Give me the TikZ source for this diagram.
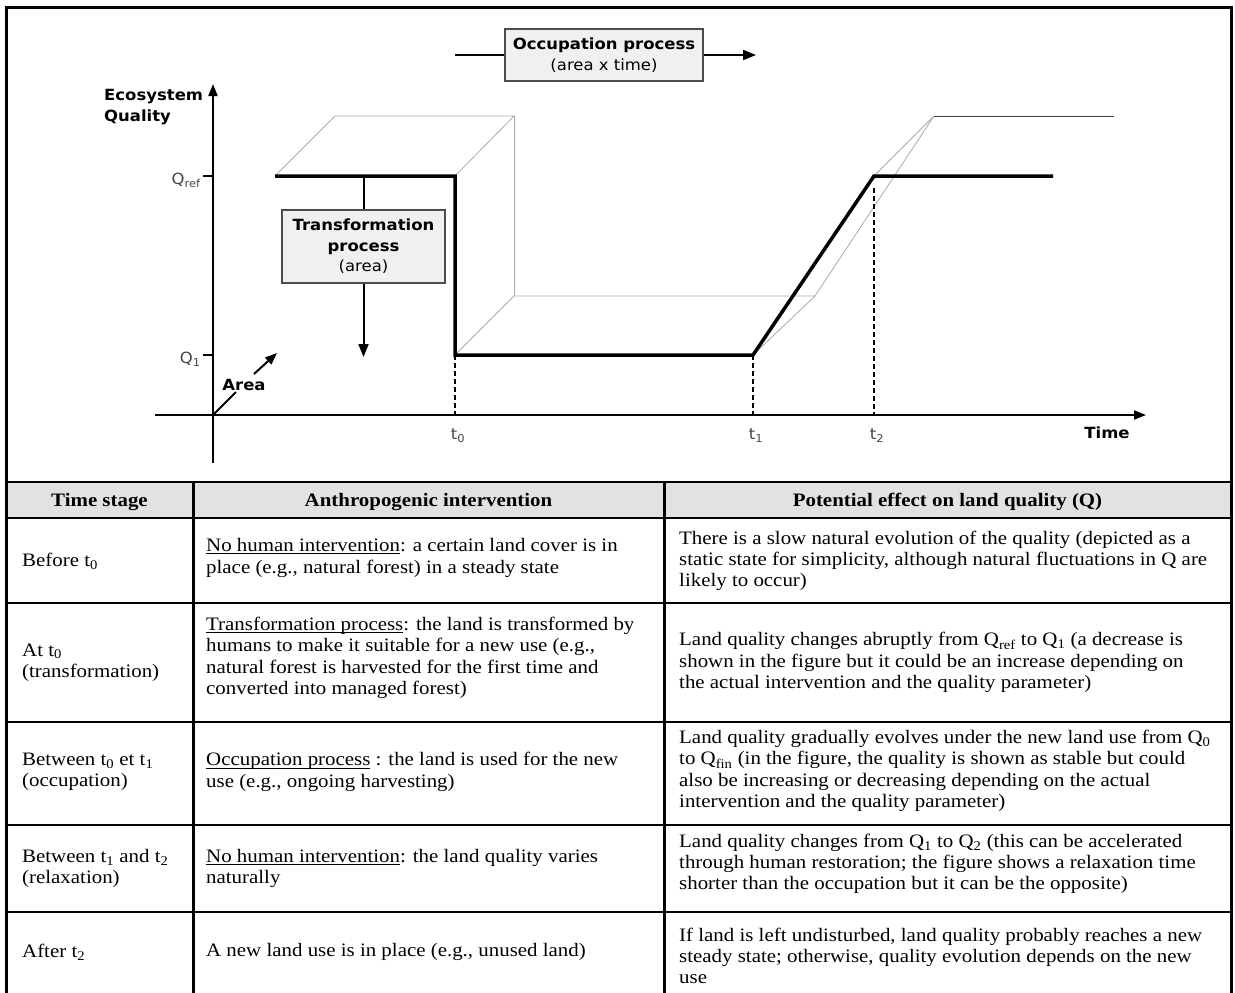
\documentclass[tikz,border=0pt]{standalone}
\usepackage{fontspec}
\setmainfont{Liberation Serif}[FakeStretch=1.1]
\newfontfamily\vf{DejaVu Sans}[FakeStretch=1.07]
\usetikzlibrary{arrows.meta}
\newcommand{\tabfont}{\fontsize{19}{21.3}\selectfont}
\newcommand{\figfont}{\vf\fontsize{15.4}{20.5}\selectfont}
\newcommand{\sub}[1]{\textsubscript{#1}}
% underline drawn close to the baseline, clear of the next line
\newcommand{\ulx}[1]{\setbox0=\hbox{#1}\rlap{\rule[-2.6pt]{\wd0}{1pt}}\box0\relax}
\definecolor{lblgray}{HTML}{444444}
\definecolor{facegray}{HTML}{AAAAAA}
\definecolor{boxfill}{HTML}{F0F0F0}
\definecolor{headfill}{HTML}{E2E2E2}
\tikzset{
  frameline/.style={line width=3pt},
  hline/.style={line width=2pt},
  vline/.style={line width=3pt},
  axis/.style={line width=1.8pt},
  curve/.style={line width=3.5pt, line join=miter},
  face/.style={line width=0.8pt, draw=facegray},
  guide/.style={line width=1.5pt, dash pattern=on 5pt off 3pt},
  procbox/.style={draw=black!70, line width=1.2pt, fill=boxfill, align=center,
    font=\figfont, inner sep=2pt},
  flow/.style={line width=2pt},
  tipbig/.style={-{Triangle[length=13pt,width=10pt]}},
  tipaxis/.style={-{Triangle[length=12pt,width=9pt]}},
  axlabel/.style={font=\figfont\bfseries, inner sep=0pt},
  ticklabel/.style={font=\figfont, text=lblgray, inner sep=0pt},
  headcell/.style={font=\tabfont\bfseries, inner sep=0pt},
  cell/.style={font=\tabfont, align=left, anchor=west, inner sep=0pt},
}
\begin{document}
\begin{tikzpicture}[x=1pt,y=-1pt]
\useasboundingbox (0,0) rectangle (1235,993);

% ---------- outer frame ----------
\draw[frameline] (6,993) -- (6,7) -- (1231,7) -- (1231,993);

% ---------- key points of the quality curve ----------
\coordinate (o)    at (213,415);
\coordinate (ytop) at (213,84);
\coordinate (ybot) at (213,463);
\coordinate (xl)   at (155,415);
\coordinate (xr)   at (1146,415);
\coordinate (s)    at (275,176);
\coordinate (a)    at (455,176);
\coordinate (b)    at (455,355);
\coordinate (c)    at (753,355);
\coordinate (d)    at (874,176);
\coordinate (e)    at (1053,176);
\coordinate (t0)   at (455,415);
\coordinate (t1)   at (753,415);
\coordinate (t2)   at (874,415);
\coordinate (t2top) at (874,188);

% ---------- perspective (area) faces ----------
\draw[face] (s) -- (335,116) -- (514,116) -- (a);
\draw[face] (514,116) -- (514,296);
\draw[face] (b) -- (514,296) -- (815,296) -- (934,116);
\draw[face] (c) -- (815,296);
\draw[face] (d) -- (934,116);
\draw[line width=0.9pt, draw=black!75] (934,116) -- (1114,116);

% ---------- axes ----------
\draw[axis, tipaxis] (ybot) -- (ytop);
\draw[axis, tipaxis] (xl) -- (xr);
\draw[axis] (203,176) -- (213,176);
\draw[axis] (203,355) -- (213,355);

% ---------- guides to the time axis ----------
\draw[guide] (b) -- (t0);
\draw[guide] (c) -- (t1);
\draw[guide] (t2top) -- (t2);

% ---------- quality curve ----------
\draw[curve] (s) -- (a) -- (b) -- (c) -- (d) -- (e);

% ---------- area axis ----------
\draw[flow] (o) -- (236,392);
\draw[flow, tipaxis] (254,374) -- (277,353);
\node[axlabel] (area) at (244,385) {Area};

% ---------- labels ----------
\node[axlabel, align=left, anchor=west] (eq) at (104,107) {Ecosystem\\Quality};
\node[ticklabel, anchor=east] (qref) at (201,180) {Q\sub{ref}};
\node[ticklabel, anchor=east] (q1) at (201,359) {Q\sub{1}};
\node[ticklabel] (lt0) at (458,436) {t\sub{0}};
\node[ticklabel] (lt1) at (756,436) {t\sub{1}};
\node[ticklabel] (lt2) at (877,436) {t\sub{2}};
\node[axlabel] (time) at (1107,433) {Time};

% ---------- process boxes ----------
\node[procbox, minimum width=198pt, minimum height=52pt] (occ) at (604,55)
  {\textbf{Occupation process}\\(area x time)};
\draw[flow] (455,55) -- (occ.west);
\draw[flow, tipbig] (occ.east) -- (756,55);

\node[procbox, minimum width=163pt, minimum height=73pt] (trans) at (363.5,246.5)
  {\textbf{Transformation}\\\textbf{process}\\(area)};
\draw[flow] (363.5,176) -- (trans.north);
\draw[flow, tipbig] (trans.south) -- (363.5,357);

% ---------- table ----------
\fill[headfill] (6,482) rectangle (1231,518);
\foreach \yy in {482,518,603,722,825,912}
  \draw[hline] (6,\yy) -- (1231,\yy);
\draw[vline] (193,482) -- (193,993);
\draw[vline] (664,482) -- (664,993);
\draw[frameline] (6,480) -- (6,993);
\draw[frameline] (1231,480) -- (1231,993);

\node[headcell] (h1) at (99.5,502) {Time stage};
\node[headcell] (h2) at (428.5,502) {Anthropogenic intervention};
\node[headcell] (h3) at (947.5,502) {Potential effect on land quality (Q)};

% row 1
\node[cell] (r1a) at (22,561) {Before t\sub{0}};
\node[cell] (r1b) at (206,558) {\ulx{No human intervention}: a certain land cover is in\\place (e.g., natural forest) in a steady state};
\node[cell] (r1c) at (679,561) {There is a slow natural evolution of the quality (depicted as a\\static state for simplicity, although natural fluctuations in Q are\\likely to occur)};

% row 2
\node[cell] (r2a) at (22,662.5) {At t\sub{0}\\(transformation)};
\node[cell] (r2b) at (206,658) {\ulx{Transformation process}: the land is transformed by\\humans to make it suitable for a new use (e.g.,\\natural forest is harvested for the first time and\\converted into managed forest)};
\node[cell] (r2c) at (679,662.5) {Land quality changes abruptly from Q\sub{ref} to Q\sub{1} (a decrease is\\shown in the figure but it could be an increase depending on\\the actual intervention and the quality parameter)};

% row 3
\node[cell] (r3a) at (22,772) {Between t\sub{0} et t\sub{1}\\(occupation)};
\node[cell] (r3b) at (206,772) {\ulx{Occupation process} : the land is used for the new\\use (e.g., ongoing harvesting)};
\node[cell] (r3c) at (679,771) {Land quality gradually evolves under the new land use from Q\sub{0}\\to Q\sub{fin} (in the figure, the quality is shown as stable but could\\also be increasing or decreasing depending on the actual\\intervention and the quality parameter)};

% row 4
\node[cell] (r4a) at (22,868.5) {Between t\sub{1} and t\sub{2}\\(relaxation)};
\node[cell] (r4b) at (206,868.5) {\ulx{No human intervention}: the land quality varies\\naturally};
\node[cell] (r4c) at (679,864) {Land quality changes from Q\sub{1} to Q\sub{2} (this can be accelerated\\through human restoration; the figure shows a relaxation time\\shorter than the occupation but it can be the opposite)};

% row 5
\node[cell] (r5a) at (22,952) {After t\sub{2}};
\node[cell] (r5b) at (206,952) {A new land use is in place (e.g., unused land)};
\node[cell] (r5c) at (679,956) {If land is left undisturbed, land quality probably reaches a new\\steady state; otherwise, quality evolution depends on the new\\use};
\end{tikzpicture}
\end{document}
